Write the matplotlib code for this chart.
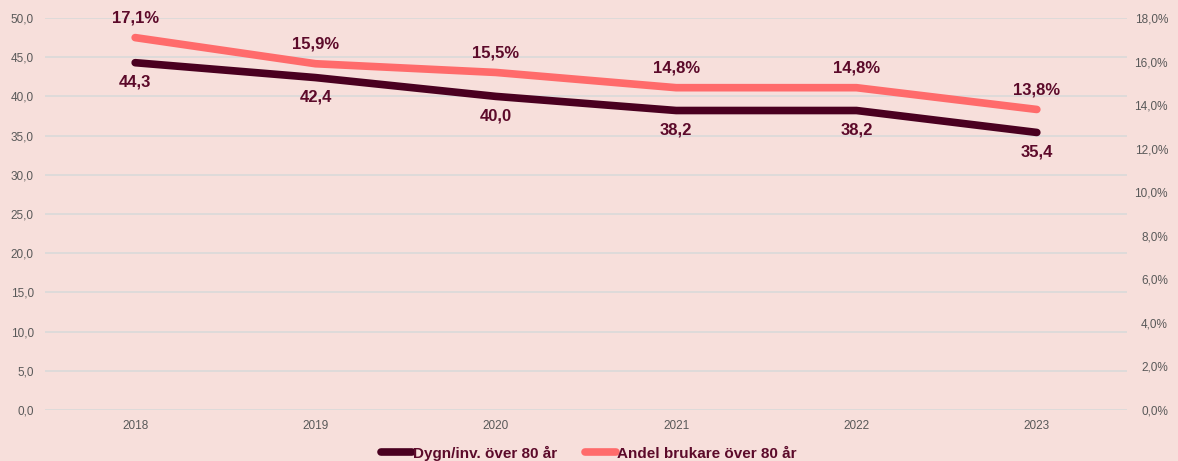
import matplotlib.pyplot as plt
import numpy as np

plt.rcParams['font.family'] = ['Liberation Sans', 'DejaVu Sans']

years = ['2018', '2019', '2020', '2021', '2022', '2023']
dygn = [44.3, 42.4, 40.0, 38.2, 38.2, 35.4]
andel = [17.1, 15.9, 15.5, 14.8, 14.8, 13.8]

bg = '#F7DFDB'
dark = '#4A0020'
pink = '#FF6B6B'
label_col = '#5C0A2A'
tick_col = '#595959'

fig = plt.figure(figsize=(11.78, 4.61), dpi=100, facecolor=bg)
ax = fig.add_axes([45 / 1178, 1 - 410 / 461, (1127 - 45) / 1178, 392 / 461])
ax.set_facecolor(bg)
ax2 = ax.twinx()

x = np.arange(len(years))
l1, = ax.plot(x, dygn, color=dark, lw=5.5, solid_capstyle='round', zorder=3)
l2, = ax2.plot(x, andel, color=pink, lw=5.5, solid_capstyle='round', zorder=3)

ax.set_xlim(-0.5, len(years) - 0.5)
ax.set_ylim(0, 50)
ax2.set_ylim(0, 18)
ax.set_yticks(np.arange(0, 51, 5))
ax.set_yticklabels([f'{v:.1f}'.replace('.', ',') for v in np.arange(0, 51, 5)])
ax2.set_yticks(np.arange(0, 19, 2))
ax2.set_yticklabels([f'{v:.1f}%'.replace('.', ',') for v in np.arange(0, 19, 2)], ha='right')
ax.set_xticks(x)
ax.set_xticklabels(years)

ax.grid(axis='y', color='#D9D9D9', lw=1.2)
ax.set_axisbelow(True)
for a in (ax, ax2):
    for s in a.spines.values():
        s.set_visible(False)
    a.tick_params(length=0, labelsize=8.5, labelcolor=tick_col)
ax.tick_params(axis='x', pad=7)
ax.tick_params(axis='y', pad=8)
ax2.tick_params(axis='y', pad=29.5)

for i, v in enumerate(dygn):
    ax.annotate(f'{v:.1f}'.replace('.', ','), (i, v), xytext=(0, -14), textcoords='offset points',
                ha='center', va='center', fontsize=12, fontweight='bold', color=label_col)
for i, v in enumerate(andel):
    ax2.annotate(f'{v:.1f}%'.replace('.', ','), (i, v), xytext=(0, 14), textcoords='offset points',
                 ha='center', va='center', fontsize=12, fontweight='bold', color=label_col)

leg = fig.legend([l1, l2], ['Dygn/inv. över 80 år', 'Andel brukare över 80 år'],
                 loc='center', bbox_to_anchor=(0.5, 1 - 453 / 461), ncol=2, frameon=False,
                 handlelength=2.0, handletextpad=0.1, columnspacing=1.8,
                 prop={'size': 11, 'weight': 'bold'})
for t in leg.get_texts():
    t.set_color(label_col)

fig.savefig('out.png', dpi=100, facecolor=bg)
